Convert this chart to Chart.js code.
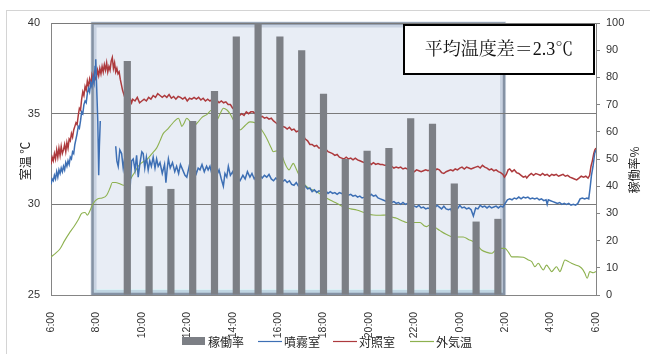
<!DOCTYPE html>
<html>
<head>
<meta charset="utf-8">
<script src="https://cdn.jsdelivr.net/npm/chart.js@4.4.1/dist/chart.umd.min.js"></script>
<style>
  html, body { margin: 0; padding: 0; background: #fff; }
  canvas { display: block; }
</style>
</head>
<body>
<canvas id="c" width="650" height="354"></canvas>
<script>
// Time axis labels, every 2 hours from 6:00 to 6:00 the next morning
const hourTicks = ['6:00','8:00','10:00','12:00','14:00','16:00','18:00','20:00','22:00','0:00','2:00','4:00','6:00'];

// Hourly categories for the operation-rate bars
const barHours = ['6:00','7:00','8:00','9:00','10:00','11:00','12:00','13:00','14:00','15:00','16:00','17:00',
  '18:00','19:00','20:00','21:00','22:00','23:00','0:00','1:00','2:00','3:00','4:00','5:00','6:00'];

// Operation rate of the mist system (%), per hour
const operationRate = [null, null, null, 86, 40, 39, 64, 75, 95, 100, 95, 90, 74, 50, 53, 54, 65, 63, 41, 27, 28, null, null, null, null];

// Spraying period (hours from midnight of day 1)
const sprayPeriod = [7.83, 25.95];

// Room temperature, mist-sprayed room [hour, degC]
const sprayRoom = [
  [6.00,31.1],[6.05,31.4],[6.10,31.3],[6.15,31.6],[6.20,31.4],[6.25,31.8],[6.30,31.5],[6.35,31.9],[6.40,31.7],[6.45,32.0],
  [6.50,31.8],[6.55,32.1],[6.60,31.9],[6.65,32.3],[6.70,32.1],[6.75,32.4],[6.80,32.2],[6.85,32.6],[6.90,32.5],[6.95,32.9],
  [7.00,32.8],[7.05,33.3],[7.10,33.6],[7.15,33.9],[7.20,34.3],[7.25,34.2],[7.30,34.6],[7.35,35.1],[7.40,35.0],[7.45,35.5],
  [7.50,35.7],[7.55,35.6],[7.60,36.1],[7.65,36.4],[7.70,36.2],[7.75,36.7],[7.80,36.5],[7.85,37.0],[7.90,36.7],[7.94,37.6],
  [7.97,38.0],[8.01,36.5],[8.06,34.6],[8.10,31.6],[8.13,33.2],[8.17,34.6],[8.50,null],
  [8.85,33.2],[8.90,32.4],[8.96,32.1],[9.03,33.0],[9.11,32.8],[9.18,32.0],[9.25,32.6],[9.33,32.2],[9.40,32.9],[9.48,30.8],
  [9.55,32.4],[9.62,32.5],[9.70,31.9],[9.77,32.7],[9.84,31.5],[9.92,32.3],[10.00,32.9],[10.06,32.8],[10.13,32.0],[10.20,32.6],
  [10.28,31.9],[10.35,32.4],[10.42,32.1],[10.50,32.6],[10.58,32.0],[10.65,32.5],[10.72,32.1],[10.80,32.3],[10.90,31.7],[11.00,32.2],
  [11.06,31.2],[11.12,32.0],[11.17,32.5],[11.25,32.0],[11.35,32.3],[11.45,31.8],[11.53,32.1],[11.62,31.7],[11.70,32.2],[11.80,31.9],
  [11.90,31.6],[11.98,31.5],[12.05,31.9],[12.12,32.3],[12.20,31.8],[12.30,32.1],[12.40,31.7],[12.48,32.0],[12.56,31.9],[12.65,32.2],
  [12.75,31.8],[12.85,32.1],[12.92,31.9],[13.00,32.1],[13.10,31.6],[13.20,32.0],[13.30,31.6],[13.40,31.9],[13.50,31.4],[13.59,31.0],
  [13.66,31.7],[13.74,31.5],[13.81,32.1],[13.90,31.6],[14.00,31.8],[14.08,31.5],[14.15,33.2],[14.20,31.8],[14.26,31.4],[14.32,31.3],
  [14.45,31.6],[14.55,31.4],[14.65,31.8],[14.76,31.5],[14.85,31.7],[14.95,31.4],[15.05,31.6],[15.20,31.6],[15.30,31.45],[15.40,31.6],
  [15.50,31.5],[15.60,31.65],[15.70,31.4],[15.80,31.3],[15.90,31.45],[16.00,31.35],[16.10,31.5],[16.20,31.25],[16.30,31.35],[16.40,31.2],
  [16.50,31.3],[16.60,31.1],[16.70,31.05],[16.80,31.2],[16.90,31.0],[17.00,31.1],[17.10,30.95],[17.20,31.0],[17.30,30.85],[17.40,30.9],
  [17.50,30.7],[17.60,30.8],[17.70,30.65],[17.80,30.75],[17.90,30.7],[18.00,30.65],[18.10,30.75],[18.20,30.6],[18.30,30.7],[18.40,30.6],
  [18.50,30.65],[18.60,30.55],[18.70,30.65],[18.80,30.6],[18.90,30.55],[19.00,30.6],[19.10,30.5],[19.20,30.55],[19.30,30.45],[19.40,30.5],
  [19.50,30.4],[19.60,30.45],[19.70,30.35],[19.80,30.4],[19.90,30.5],[20.00,30.4],[20.10,30.55],[20.20,30.45],[20.30,30.5],[20.40,30.35],
  [20.50,30.3],[20.60,30.25],[20.70,30.2],[20.80,30.15],[20.90,30.2],[21.00,30.1],[21.10,30.15],[21.20,30.05],[21.30,30.1],[21.40,30.0],
  [21.50,30.1],[21.60,30.0],[21.70,30.05],[21.80,29.95],[21.90,30.0],[22.00,29.9],[22.10,29.85],[22.20,29.95],[22.30,29.8],[22.40,29.85],
  [22.50,29.75],[22.60,29.8],[22.70,29.75],[22.80,29.9],[22.90,29.8],[23.00,29.95],[23.10,29.85],[23.20,29.75],[23.30,29.9],[23.40,29.75],
  [23.50,29.7],[23.60,29.75],[23.70,29.4],[23.80,29.8],[23.90,29.75],[24.00,29.95],[24.10,29.8],[24.20,29.85],[24.30,29.75],[24.40,29.8],
  [24.50,29.7],[24.60,29.35],[24.70,29.8],[24.80,29.75],[24.90,29.95],[25.00,29.85],[25.10,29.9],[25.20,29.8],[25.30,29.9],[25.40,29.8],
  [25.50,29.85],[25.60,29.9],[25.70,29.8],[25.80,29.9],[25.90,29.85],[26.00,30.05],[26.10,30.25],[26.20,30.3],[26.30,30.25],[26.40,30.35],
  [26.50,30.3],[26.60,30.4],[26.70,30.3],[26.80,30.4],[26.90,30.35],[27.00,30.4],[27.10,30.3],[27.20,30.35],[27.30,30.3],[27.40,30.35],
  [27.50,30.25],[27.60,30.3],[27.70,30.2],[27.80,30.25],[27.85,30.0],[27.90,30.25],[28.00,30.2],[28.10,30.15],[28.20,30.1],[28.30,30.05],
  [28.40,30.1],[28.50,30.0],[28.60,30.05],[28.70,30.0],[28.80,30.05],[28.90,29.95],[29.00,30.0],[29.10,29.95],[29.20,30.05],[29.30,30.3],
  [29.40,30.35],[29.50,30.3],[29.60,30.35],[29.68,30.3],[29.74,30.9],[29.80,31.6],[29.87,32.1],[29.94,32.8],[30.00,33.0]
];

// Room temperature, control room [hour, degC]
const controlRoom = [
  [6.00,32.2],[6.05,32.6],[6.10,32.4],[6.15,32.8],[6.20,32.5],[6.25,33.0],[6.30,32.6],[6.35,33.1],[6.40,32.7],[6.45,33.2],
  [6.50,32.8],[6.55,33.0],[6.60,33.3],[6.65,32.9],[6.70,33.4],[6.75,33.1],[6.80,33.6],[6.85,33.5],[6.90,33.9],[6.95,33.7],
  [7.00,34.1],[7.05,34.3],[7.10,34.5],[7.15,34.4],[7.20,34.9],[7.25,35.3],[7.30,35.2],[7.35,35.8],[7.40,36.2],[7.45,36.0],
  [7.50,36.5],[7.55,36.3],[7.60,36.8],[7.65,36.5],[7.70,36.9],[7.75,36.6],[7.80,37.1],[7.85,36.8],[7.90,37.2],[7.95,36.9],
  [8.00,37.0],[8.05,37.4],[8.10,37.1],[8.15,37.5],[8.20,37.2],[8.25,37.6],[8.30,37.3],[8.35,37.7],[8.40,37.4],[8.45,37.8],
  [8.50,37.3],[8.55,37.6],[8.60,37.4],[8.65,37.9],[8.70,38.1],[8.75,37.5],[8.80,37.8],[8.85,37.3],[8.90,37.5],[8.95,37.2],
  [9.00,37.3],[9.05,36.9],[9.10,36.6],[9.15,36.3],[9.20,36.1],[9.25,35.9],[9.30,36.0],[9.35,35.8],[9.40,36.0],[9.45,35.7],
  [9.50,35.8],[9.55,35.6],[9.60,35.8],[9.70,35.7],[9.80,35.9],[9.90,35.6],[10.00,35.7],[10.10,35.8],[10.20,35.7],[10.30,35.9],
  [10.40,35.8],[10.50,36.0],[10.60,35.9],[10.70,36.1],[10.80,36.0],[10.90,35.9],[11.00,36.0],[11.10,35.9],[11.20,36.05],[11.30,35.85],
  [11.40,35.95],[11.50,35.8],[11.60,35.95],[11.70,35.9],[11.80,35.8],[11.90,35.9],[12.00,35.7],[12.10,35.85],[12.20,35.8],[12.30,35.9],
  [12.40,35.8],[12.50,35.9],[12.60,35.75],[12.70,35.85],[12.80,35.7],[12.90,35.8],[13.00,35.7],[13.10,35.8],[13.20,35.7],[13.30,35.75],
  [13.40,35.6],[13.50,35.7],[13.60,35.6],[13.70,35.65],[13.80,35.5],[13.90,35.5],[14.00,35.3],[14.10,35.2],[14.20,35.0],[14.30,34.9],
  [14.40,35.0],[14.50,34.9],[14.60,35.1],[14.70,35.0],[14.80,35.1],[14.90,35.1],[15.00,35.0],[15.10,34.9],[15.20,34.8],[15.30,34.85],
  [15.40,34.75],[15.50,34.8],[15.60,34.7],[15.70,34.75],[15.80,34.6],[15.90,34.5],[16.00,34.4],[16.10,34.35],[16.20,34.3],[16.30,34.25],
  [16.40,34.15],[16.50,34.25],[16.60,34.1],[16.70,34.15],[16.80,34.0],[16.90,34.05],[17.00,33.9],[17.10,33.8],[17.20,33.6],[17.30,33.5],
  [17.40,33.3],[17.50,33.3],[17.60,33.2],[17.70,33.25],[17.80,33.1],[17.90,33.1],[18.00,33.0],[18.10,33.05],[18.20,32.9],[18.30,32.85],
  [18.40,32.8],[18.50,32.7],[18.60,32.75],[18.70,32.6],[18.80,32.55],[18.90,32.5],[19.00,32.6],[19.10,32.5],[19.20,32.55],[19.30,32.45],
  [19.40,32.55],[19.50,32.45],[19.60,32.4],[19.70,32.35],[19.80,32.3],[19.90,32.25],[20.00,32.3],[20.10,32.2],[20.20,32.3],[20.30,32.2],
  [20.40,32.25],[20.50,32.2],[20.60,32.2],[20.70,32.15],[20.80,32.15],[20.90,32.05],[21.00,32.1],[21.10,32.0],[21.20,32.05],[21.30,32.0],
  [21.40,32.05],[21.50,31.95],[21.60,32.0],[21.70,31.95],[21.80,31.9],[21.90,31.8],[22.00,31.8],[22.10,31.9],[22.20,31.85],[22.30,31.8],
  [22.40,31.85],[22.50,31.9],[22.60,31.85],[22.70,31.9],[22.80,31.95],[22.90,31.85],[23.00,31.95],[23.10,31.9],[23.20,31.75],[23.30,31.7],
  [23.40,31.8],[23.50,31.85],[23.60,31.9],[23.70,31.85],[23.80,31.95],[23.90,31.9],[24.00,32.0],[24.10,32.05],[24.20,31.95],[24.30,32.05],
  [24.40,32.0],[24.50,31.95],[24.60,32.0],[24.70,32.05],[24.80,32.1],[24.90,32.0],[25.00,32.15],[25.10,32.05],[25.20,32.0],[25.30,31.9],
  [25.40,31.95],[25.50,31.85],[25.60,31.9],[25.70,31.8],[25.80,31.75],[25.90,31.65],[25.97,31.5],[26.05,31.65],[26.13,31.9],[26.20,31.95],
  [26.30,31.8],[26.40,31.9],[26.50,31.75],[26.60,31.7],[26.70,31.6],[26.80,31.5],[26.90,31.55],[26.95,31.45],[27.05,31.6],[27.15,31.7],
  [27.25,31.6],[27.35,31.7],[27.45,31.65],[27.55,31.6],[27.65,31.7],[27.75,31.6],[27.85,31.65],[27.95,31.55],[28.05,31.65],[28.15,31.6],
  [28.25,31.65],[28.35,31.55],[28.45,31.6],[28.55,31.65],[28.65,31.55],[28.75,31.6],[28.85,31.5],[28.95,31.45],[29.05,31.4],[29.15,31.35],
  [29.25,31.45],[29.35,31.55],[29.45,31.5],[29.55,31.55],[29.65,31.45],[29.72,31.6],[29.78,32.1],[29.84,32.4],[29.90,32.8],[29.95,33.0],
  [30.00,33.1]
];

// Outdoor air temperature [hour, degC]
const outdoor = [
  [6.00,27.1],[6.20,27.3],[6.40,27.55],[6.60,28.0],[6.80,28.4],[7.00,28.75],[7.20,29.15],[7.35,29.5],[7.50,29.55],[7.60,29.4],
  [7.70,29.6],[7.86,30.05],[8.05,30.3],[8.25,30.35],[8.45,30.5],[8.60,30.9],[8.70,31.2],[8.85,31.2],[9.00,31.15],[9.20,31.05],
  [9.35,31.07],[9.55,31.5],[9.70,31.8],[9.84,32.1],[10.00,32.3],[10.21,32.45],[10.45,32.8],[10.65,33.1],[10.80,33.5],[10.94,33.9],
  [11.10,34.1],[11.24,34.3],[11.45,34.6],[11.61,34.75],[11.70,34.5],[11.76,34.3],[11.85,34.45],[11.98,34.75],[12.10,34.6],[12.27,34.3],
  [12.45,34.5],[12.65,34.8],[12.86,34.95],[13.08,35.2],[13.20,35.0],[13.30,34.65],[13.45,35.0],[13.59,35.3],[13.75,35.2],[13.88,35.0],
  [14.10,34.5],[14.32,34.1],[14.55,34.35],[14.76,34.55],[14.98,34.5],[15.15,34.3],[15.28,34.1],[15.45,33.75],[15.57,33.45],[15.70,33.1],
  [15.79,32.9],[15.95,32.95],[16.08,32.9],[16.20,32.6],[16.30,32.26],[16.49,31.9],[16.58,32.1],[16.67,32.26],[16.78,32.0],[16.89,31.7],
  [17.05,31.3],[17.26,30.97],[17.50,30.8],[17.70,30.7],[18.00,30.45],[18.29,30.24],[18.60,30.05],[18.87,29.87],[19.20,29.75],[19.46,29.69],
  [19.80,29.55],[20.19,29.41],[20.50,29.4],[20.78,29.41],[21.00,29.3],[21.22,29.23],[21.45,29.1],[21.66,29.0],[22.00,29.0],[22.25,29.0],
  [22.45,28.8],[22.54,28.77],[22.65,28.85],[22.76,28.86],[22.95,28.7],[23.13,28.55],[23.40,28.35],[23.71,28.2],[23.95,28.2],[24.15,28.2],
  [24.40,28.05],[24.60,27.94],[24.80,27.7],[24.96,27.48],[25.20,27.35],[25.41,27.3],[25.55,27.45],[25.70,27.57],[25.99,27.57],[26.15,27.35],
  [26.29,27.1],[26.55,27.1],[26.80,27.08],[27.00,26.95],[27.17,26.84],[27.31,26.56],[27.46,26.75],[27.57,26.55],[27.68,26.38],[27.82,26.65],
  [27.95,26.45],[28.05,26.29],[28.17,26.45],[28.26,26.56],[28.35,26.4],[28.41,26.29],[28.52,26.6],[28.63,26.93],[28.78,26.85],[28.92,26.75],
  [29.10,26.65],[29.29,26.56],[29.42,26.4],[29.51,26.2],[29.61,25.92],[29.73,26.29],[29.88,26.23],[30.00,26.3]
];

const avgDiffText = '平均温度差＝2.3℃';

const CJK = '"Noto Sans CJK JP", "Noto Sans", sans-serif';
const NUM = '"Liberation Sans", "DejaVu Sans", sans-serif';
const AXIS_GRAY = '#858585';

const toXY = rows => rows.map(([x, y]) => ({ x, y }));

// Background, outer frame and the shaded spraying period
const backdrop = {
  id: 'backdrop',
  beforeDraw(chart) {
    const { ctx, chartArea: a, scales } = chart;
    ctx.save();
    ctx.fillStyle = '#ffffff';
    ctx.fillRect(0, 0, chart.width, chart.height);

    ctx.strokeStyle = '#d4d4d4';
    ctx.lineWidth = 1;
    ctx.strokeRect(6.5, 10.5, chart.width + 10, chart.height + 10);

    const x0 = scales.x.getPixelForValue(sprayPeriod[0]);
    const x1 = scales.x.getPixelForValue(sprayPeriod[1]);
    const top = a.top + 0.5, bottom = a.bottom - 1;
    ctx.fillStyle = '#e8edf5';
    ctx.fillRect(x0, top, x1 - x0, bottom - top);
    ctx.fillStyle = '#dcf1f6';
    ctx.fillRect(x0, bottom - 5, x1 - x0, 4);
    ctx.strokeStyle = 'rgba(140,160,190,0.35)';
    ctx.lineWidth = 6;
    ctx.strokeRect(x0 + 1, top + 1, x1 - x0 - 2, bottom - top - 2);
    ctx.strokeStyle = '#8592a4';
    ctx.lineWidth = 2.5;
    ctx.strokeRect(x0, top, x1 - x0, bottom - top);
    ctx.restore();
  },
  afterDraw(chart) {
    const { ctx } = chart;
    ctx.save();

    // axis titles, both read bottom-to-top
    ctx.fillStyle = '#222';
    ctx.font = '12px ' + CJK;
    ctx.textAlign = 'center';
    ctx.textBaseline = 'middle';
    ctx.save(); ctx.translate(25, 161); ctx.rotate(-Math.PI / 2); ctx.fillText('室温 ℃', 0, 0); ctx.restore();
    ctx.save(); ctx.translate(634, 170); ctx.rotate(-Math.PI / 2); ctx.fillText('稼働率%', 0, 0); ctx.restore();

    // legend
    const ds = chart.data.datasets;
    const items = [
      { x: 182, text: ds[0].label, color: ds[0].backgroundColor, box: true },
      { x: 258, text: ds[1].label, color: ds[1].borderColor },
      { x: 333, text: ds[2].label, color: ds[2].borderColor },
      { x: 410, text: ds[3].label, color: ds[3].borderColor }
    ];
    const ly = 341;
    ctx.textAlign = 'left';
    items.forEach(it => {
      if (it.box) {
        ctx.fillStyle = it.color;
        ctx.fillRect(it.x, ly - 4, 23, 8);
      } else {
        ctx.strokeStyle = it.color;
        ctx.lineWidth = 1.2;
        ctx.beginPath(); ctx.moveTo(it.x, ly + 0.5); ctx.lineTo(it.x + 24, ly + 0.5); ctx.stroke();
      }
      ctx.fillStyle = '#222';
      ctx.fillText(it.text, it.x + 26, ly + 1);
    });

    // average temperature difference box
    ctx.fillStyle = '#ffffff';
    ctx.fillRect(403, 24, 192, 50);
    ctx.strokeStyle = '#000';
    ctx.lineWidth = 2;
    ctx.strokeRect(404, 25, 190, 49);
    ctx.fillStyle = '#111';
    ctx.font = '18px "Liberation Serif", "Noto Serif CJK JP", ' + CJK;
    ctx.textAlign = 'center';
    ctx.fillText(avgDiffText, 499, 50);
    ctx.restore();
  }
};

new Chart(document.getElementById('c'), {
  type: 'line',
  data: {
    labels: barHours,
    datasets: [
      {
        type: 'bar', label: '稼働率', data: operationRate,
        xAxisID: 'xb', yAxisID: 'yr', grouped: false,
        backgroundColor: '#7c7f85', barPercentage: 0.33, categoryPercentage: 1, order: 0
      },
      {
        type: 'line', label: '噴霧室', data: toXY(sprayRoom),
        xAxisID: 'x', yAxisID: 'y', borderColor: '#3d6fb4', borderWidth: 1.5,
        pointRadius: 0, tension: 0, spanGaps: false, order: 1
      },
      {
        type: 'line', label: '対照室', data: toXY(controlRoom),
        xAxisID: 'x', yAxisID: 'y', borderColor: '#ad3a3d', borderWidth: 1.5,
        pointRadius: 0, tension: 0, order: 2
      },
      {
        type: 'line', label: '外気温', data: toXY(outdoor),
        xAxisID: 'x', yAxisID: 'y', borderColor: '#8db14f', borderWidth: 1.1,
        pointRadius: 0, cubicInterpolationMode: 'monotone', order: 3
      }
    ]
  },
  options: {
    responsive: false,
    animation: false,
    devicePixelRatio: 1,
    layout: { padding: { top: 23, left: 0, right: 0, bottom: 0 } },
    plugins: { legend: { display: false }, tooltip: { enabled: false } },
    scales: {
      x: {
        type: 'linear', position: 'bottom', min: 6, max: 30, offset: false,
        grid: { display: false },
        border: { display: true, color: AXIS_GRAY },
        ticks: {
          stepSize: 2, autoSkip: false, minRotation: 90, maxRotation: 90, padding: 9,
          color: '#333', font: { family: NUM, size: 10.5 },
          callback: (v, i) => hourTicks[i]
        },
        afterFit: s => { s.height = 59; }
      },
      xb: { type: 'category', display: false, offset: true },
      y: {
        type: 'linear', position: 'left', min: 25, max: 40,
        grid: { color: '#7a7a7a', drawTicks: false },
        border: { display: true, color: AXIS_GRAY },
        ticks: { stepSize: 5, padding: 11, color: '#333', font: { family: NUM, size: 11 } },
        afterFit: s => { s.width = 51; }
      },
      yr: {
        type: 'linear', position: 'right', min: 0, max: 100,
        grid: { drawOnChartArea: false, drawTicks: true, tickLength: 4, color: AXIS_GRAY },
        border: { display: true, color: AXIS_GRAY },
        ticks: { stepSize: 10, padding: 6, color: '#333', font: { family: NUM, size: 11 } },
        afterFit: s => { s.width = 54; }
      }
    }
  },
  plugins: [backdrop]
});
</script>
</body>
</html>
